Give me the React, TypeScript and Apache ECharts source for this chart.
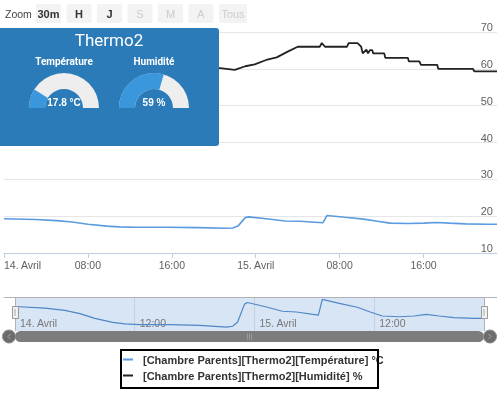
import React, { useEffect, useRef } from 'react';
import * as echarts from 'echarts';

const tempName = '[Chambre Parents][Thermo2][Température] °C';
const humName = '[Chambre Parents][Thermo2][Humidité] %';

// hours since 14 Avril 00:00
const tempHours = [0, 3, 5, 6.5, 8, 9.8, 11, 12.5, 15.5, 18.5, 21.2, 21.8, 22.3, 23.0, 23.3, 25.0, 26.8, 28.2, 30.4, 30.8, 32.5, 34.3, 35.6, 36.8, 38.5, 40, 41.2, 42.5, 44, 46, 47];
const tempValues = [19.3, 19.1, 18.8, 18.4, 17.8, 17.3, 17.1, 17.0, 17.0, 16.9, 16.7, 16.8, 17.3, 19.6, 19.8, 19.3, 18.7, 18.6, 18.2, 20.2, 19.7, 19.2, 18.6, 18.1, 18.0, 18.1, 18.3, 18.1, 17.9, 17.8, 17.8];

const humHours = [0, 10, 20.6, 22.0, 23.0, 23.9, 25.0, 26.0, 27.0, 28.0, 30.1, 30.3, 30.6, 32.7, 32.85, 33.7, 34.05, 34.2, 34.55, 34.7, 34.9, 35.1, 35.2, 36.25, 36.35, 38.5, 38.6, 39.6, 39.75, 41.3, 41.4, 44.7, 44.85, 47];
const humValues = [60.5, 60.3, 60.2, 59.7, 60.7, 61.2, 62.4, 63.1, 64.6, 66.0, 66.0, 67.0, 66.0, 66.0, 67.0, 67.0, 66.0, 64.2, 65.2, 64.2, 65.1, 65.1, 64.2, 64.2, 63.0, 63.0, 62.0, 62.0, 61.1, 61.1, 60.0, 60.0, 59.3, 59.3];

const xTickHours = [0, 8, 16, 24, 32, 40];
const xTickLabels = ['14. Avril', '08:00', '16:00', '15. Avril', '08:00', '16:00'];
const navTickHours = [0, 12, 24, 36];
const navTickLabels = ['14. Avril', '12:00', '15. Avril', '12:00'];

const yMin = 10;
const yMax = 70;
const yStep = 10;
const xMaxHour = 47;

const panelTitle = 'Thermo2';
const gaugeTitles = ['Température', 'Humidité'];
const gaugeValues = [17.8, 59];
const gaugeUnits = ['°C', '%'];

const rangeButtons = ['30m', 'H', 'J', 'S', 'M', 'A', 'Tous'];
const rangeEnabled = [true, true, true, false, false, false, false];

const FONT = 'Liberation Sans, Arial, sans-serif';

export default function App() {
  const ref = useRef<HTMLDivElement>(null);
  useEffect(() => {
    if (!ref.current) return;
    const chart = echarts.init(ref.current, null, { renderer: 'svg' });
    const tempData = tempHours.map((h, i) => [h, tempValues[i]]);
    const humData = humHours.map((h, i) => [h, humValues[i]]);

    const gaugeCenters = [[64, 108], [154, 108]];
    const gauges = gaugeValues.map((v, i) => ({
      type: 'gauge',
      z: 60,
      center: gaugeCenters[i],
      radius: 35,
      startAngle: 180,
      endAngle: 0,
      min: 0,
      max: 100,
      axisLine: { lineStyle: { width: 16, color: [[1, '#eeeeee']] } },
      progress: { show: true, width: 16, itemStyle: { color: '#3a97dc' } },
      pointer: { show: false },
      anchor: { show: false },
      axisTick: { show: false },
      splitLine: { show: false },
      axisLabel: { show: false },
      title: { show: false },
      detail: {
        offsetCenter: [0, -6],
        formatter: (val: number) => `${val} ${gaugeUnits[i]}`,
        color: '#ffffff',
        fontSize: 10,
        fontWeight: 'bold',
        fontFamily: FONT,
      },
      data: [{ value: v }],
    }));

    const graphic: any[] = [];
    // Range selector
    graphic.push({
      type: 'text', x: 5, y: 13.5,
      style: { text: 'Zoom', fill: '#444', fontSize: 10.5, fontFamily: FONT, verticalAlign: 'middle' },
    });
    rangeButtons.forEach((b, i) => {
      const x = 36 + i * 30.5;
      const w = i === rangeButtons.length - 1 ? 28 : 25;
      graphic.push({
        type: 'rect', shape: { x, y: 4, width: w, height: 19, r: 2 },
        style: { fill: '#f3f3f3' },
      });
      graphic.push({
        type: 'text', x: x + w / 2, y: 13.5,
        style: {
          text: b, fill: rangeEnabled[i] ? '#333' : '#cccccc', fontSize: 11,
          fontWeight: rangeEnabled[i] ? 'bold' : 'normal', fontFamily: FONT,
          align: 'center', verticalAlign: 'middle',
        },
      });
    });
    // Panel
    graphic.push({
      type: 'rect', z: 50, shape: { x: 0, y: 28, width: 219, height: 118, r: [0, 3, 3, 0] },
      style: { fill: '#2b7bb9' },
    });
    graphic.push({
      type: 'text', z: 70, x: 109, y: 40,
      style: { text: panelTitle, fill: '#ffffff', fontSize: 17, fontFamily: 'Roboto', align: 'center', verticalAlign: 'middle' },
    });
    gaugeTitles.forEach((t, i) => {
      graphic.push({
        type: 'text', z: 70, x: gaugeCenters[i][0], y: 61,
        style: { text: t, fill: '#ffffff', fontSize: 10, fontWeight: 'bold', fontFamily: 'Roboto', align: 'center', verticalAlign: 'middle' },
      });
    });
    // Navigator mask
    graphic.push({
      type: 'rect', z: 0, shape: { x: 15, y: 297, width: 469, height: 34 },
      style: { fill: '#d8e5f5' },
    });
    // Navigator outline
    graphic.push({ type: 'line', z: 5, shape: { x1: 4, y1: 297.5, x2: 497, y2: 297.5 }, style: { stroke: '#b2b1b6', lineWidth: 1 } });
    graphic.push({ type: 'line', z: 5, shape: { x1: 15.5, y1: 297, x2: 15.5, y2: 331 }, style: { stroke: '#b2b1b6', lineWidth: 1 } });
    graphic.push({ type: 'line', z: 5, shape: { x1: 484.5, y1: 297, x2: 484.5, y2: 331 }, style: { stroke: '#b2b1b6', lineWidth: 1 } });
    // Handles
    [12.5, 481.5].forEach((hx) => {
      graphic.push({ type: 'rect', z: 6, shape: { x: hx, y: 306.5, width: 6, height: 12 }, style: { fill: '#f2f2f2', stroke: '#999', lineWidth: 1 } });
      graphic.push({ type: 'line', z: 7, shape: { x1: hx + 2.5, y1: 309, x2: hx + 2.5, y2: 316 }, style: { stroke: '#aaa', lineWidth: 1 } });
    });
    // Scrollbar
    graphic.push({ type: 'rect', z: 5, shape: { x: 15, y: 331, width: 469, height: 11, r: 5.5 }, style: { fill: '#7c7c7c' } });
    [9, 490].forEach((cx, k) => {
      graphic.push({ type: 'circle', z: 6, shape: { cx, cy: 336.5, r: 6.5 }, style: { fill: '#6c6c6c', stroke: '#909090', lineWidth: 1 } });
      graphic.push({
        type: 'polyline', z: 7,
        shape: { points: k === 0 ? [[10.5, 334], [8, 336.5], [10.5, 339]] : [[488.5, 334], [491, 336.5], [488.5, 339]] },
        style: { stroke: '#aaaaaa', lineWidth: 1, fill: 'none' },
      });
    });
    [247.5, 249.5, 251.5].forEach((gx) => {
      graphic.push({ type: 'line', z: 6, shape: { x1: gx, y1: 333.5, x2: gx, y2: 339.5 }, style: { stroke: '#9a9a9a', lineWidth: 1 } });
    });
    // Legend border
    graphic.push({
      type: 'rect', z: 100, shape: { x: 121, y: 350, width: 257, height: 38 },
      style: { fill: 'transparent', stroke: '#000', lineWidth: 2 },
    });

    const xFmt = (v: number) => {
      const i = xTickHours.indexOf(v);
      return i >= 0 ? xTickLabels[i] : '';
    };
    const navFmt = (v: number) => {
      const i = navTickHours.indexOf(v);
      return i >= 0 ? navTickLabels[i] : '';
    };

    chart.setOption({
      animation: false,
      grid: [
        { left: 4, top: 32, width: 493, height: 221 },
        { left: 15, top: 297, width: 469, height: 34 },
      ],
      xAxis: [
        {
          type: 'value', gridIndex: 0, min: 0, max: xMaxHour, interval: 8,
          axisLine: { onZero: false, lineStyle: { color: '#c0d0e0' } },
          axisTick: { show: true, length: 5, lineStyle: { color: '#c0d0e0' } },
          splitLine: { show: false },
          axisLabel: {
            formatter: xFmt, color: '#606060', fontSize: 10.5, fontFamily: FONT, margin: 6,
            alignMinLabel: 'left', showMaxLabel: false,
          },
        },
        {
          type: 'value', gridIndex: 1, min: 0, max: xMaxHour, interval: 12, z: 1,
          axisLine: { show: false }, axisTick: { show: false },
          splitLine: { show: true, lineStyle: { color: '#c6d0dc' } },
          axisLabel: {
            inside: true, formatter: navFmt, color: '#777', fontSize: 10.5, fontFamily: FONT,
            align: 'left', padding: [0, 0, 0, 5], margin: 3, verticalAlign: 'bottom', showMaxLabel: false,
          },
        },
      ],
      yAxis: [
        {
          type: 'value', gridIndex: 0, position: 'right', min: yMin, max: yMax, interval: yStep,
          axisLine: { show: false }, axisTick: { show: false },
          splitLine: { lineStyle: { color: '#e6e6e6' } },
          axisLabel: { inside: true, margin: 4, verticalAlign: 'bottom', lineHeight: 10, color: '#606060', fontSize: 11, fontFamily: FONT },
        },
        { type: 'value', gridIndex: 1, min: 16.2, max: 20.5, show: false },
      ],
      legend: {
        orient: 'vertical', left: 123, top: 354, itemWidth: 10, itemHeight: 2, itemGap: 5,
        icon: 'rect', padding: 0,
        data: [tempName, humName],
        textStyle: { fontFamily: FONT, fontWeight: 'bold', fontSize: 11, color: '#333', padding: [0, 0, 0, 5] },
      },
      graphic,
      series: [
        {
          name: tempName, type: 'line', xAxisIndex: 0, yAxisIndex: 0, data: tempData,
          showSymbol: false, lineStyle: { color: '#5b9be0', width: 1.6 }, itemStyle: { color: '#5b9be0' },
        },
        {
          name: humName, type: 'line', xAxisIndex: 0, yAxisIndex: 0, data: humData,
          showSymbol: false, lineStyle: { color: '#222', width: 1.8 }, itemStyle: { color: '#222' },
        },
        {
          name: 'navigator', type: 'line', xAxisIndex: 1, yAxisIndex: 1, data: tempData, z: 3,
          showSymbol: false, lineStyle: { color: '#4f86c6', width: 1.2 },
        },
        ...gauges,
      ],
    } as any);
    return () => chart.dispose();
  }, []);
  return <div ref={ref} style={{ position: 'fixed', left: 0, top: 0, width: 500, height: 393 }} />;
}
